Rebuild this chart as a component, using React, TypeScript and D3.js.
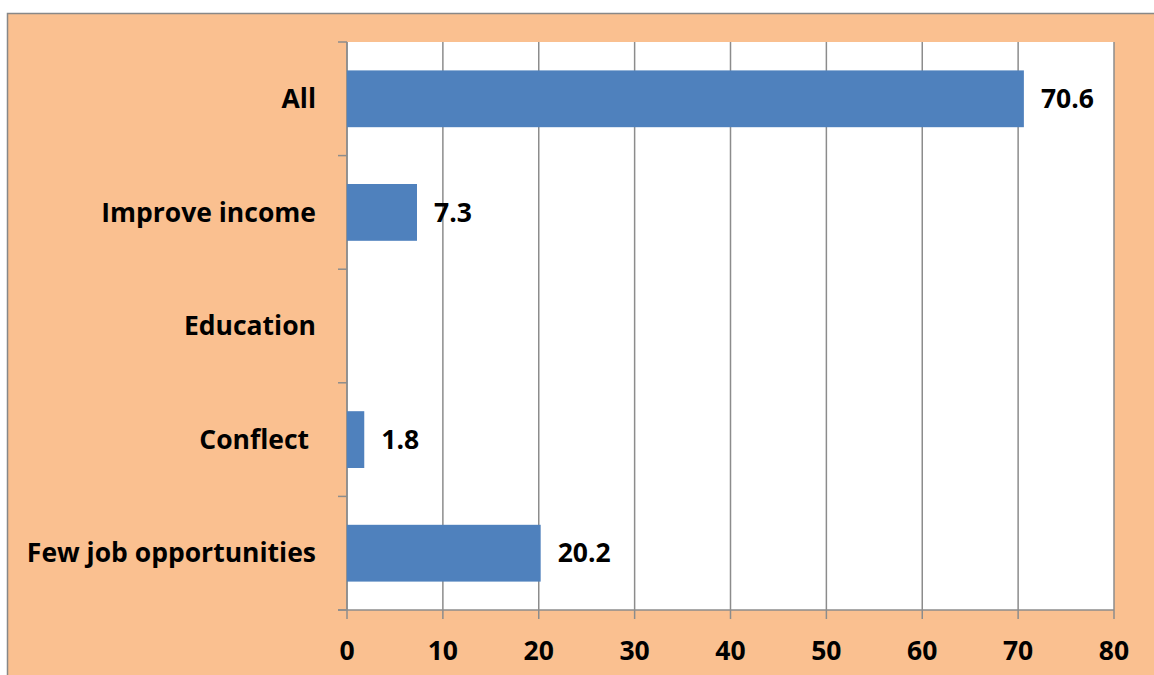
import React from "react";
import * as d3 from "d3";

const categories = ["All", "Improve income", "Education", "Conflect\u00A0", "Few job opportunities"];
const values: (number | null)[] = [70.6, 7.3, null, 1.8, 20.2];
const xTicks = [0, 10, 20, 30, 40, 50, 60, 70, 80];

const W = 1154, H = 675;
const plot = { left: 347, right: 1114, top: 42, bottom: 610 };
const FONT = "'Open Sans', sans-serif";
const FS = 26.5;

export default function App() {
  const x = d3.scaleLinear().domain([0, 80]).range([plot.left, plot.right]);
  const y = d3.scaleBand<string>().domain(categories).range([plot.top, plot.bottom]).paddingInner(0.5).paddingOuter(0.25);
  const bandStep = (plot.bottom - plot.top) / categories.length;
  const boundaries = d3.range(categories.length + 1).map((i) => plot.top + i * bandStep);
  const grid = "#8c8c8c";
  return (
    <svg width={W} height={H} style={{ position: "absolute", left: 0, top: 0 }}>
      <rect x={0} y={0} width={W} height={H} fill="#ffffff" />
      <rect x={7.5} y={13.5} width={W + 20} height={H + 20} fill="#FAC090" stroke="#888888" strokeWidth={1.5} />
      <rect x={plot.left} y={plot.top} width={plot.right - plot.left} height={plot.bottom - plot.top} fill="#ffffff" />
      {xTicks.map((t) => (
        <line key={"g" + t} x1={x(t)} x2={x(t)} y1={plot.top} y2={plot.bottom + 9} stroke={grid} strokeWidth={1.5} />
      ))}
      <line x1={plot.left - 9} x2={plot.right} y1={plot.bottom} y2={plot.bottom} stroke={grid} strokeWidth={1.5} />
      <line x1={plot.left} x2={plot.left} y1={plot.top} y2={plot.bottom} stroke={grid} strokeWidth={1.5} />
      {boundaries.map((b, i) => (
        <line key={"b" + i} x1={plot.left - 9} x2={plot.left} y1={b} y2={b} stroke={grid} strokeWidth={1.5} />
      ))}
      {categories.map((c, i) => {
        const v = values[i];
        const yy = y(c)!;
        const bw = y.bandwidth();
        return (
          <g key={c}>
            {v != null && (
              <rect x={x(0)} y={yy} width={x(v) - x(0)} height={bw} fill="#4F81BD" />
            )}
            {v != null && (
              <text x={x(v) + 17} y={yy + bw / 2} dy="0.35em" fontFamily={FONT} fontWeight="bold" fontSize={FS} fill="#000">
                {v.toFixed(1)}
              </text>
            )}
            <text x={plot.left - 31} y={yy + bw / 2} dy="0.35em" textAnchor="end" fontFamily={FONT} fontWeight="bold" fontSize={FS} fill="#000">
              {c}
            </text>
          </g>
        );
      })}
      {xTicks.map((t) => (
        <text key={"t" + t} x={x(t)} y={651} dy="0.35em" textAnchor="middle" fontFamily={FONT} fontWeight="bold" fontSize={FS} fill="#000">
          {t}
        </text>
      ))}
    </svg>
  );
}
